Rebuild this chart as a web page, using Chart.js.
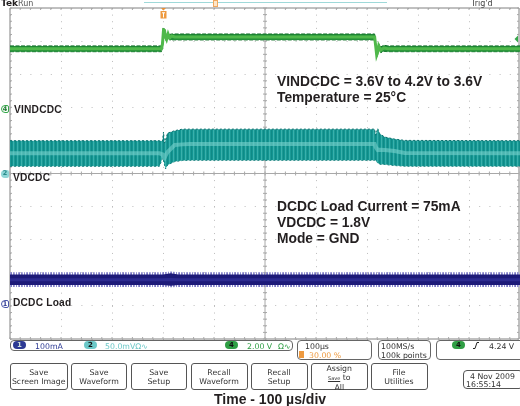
<!DOCTYPE html>
<html>
<head>
<meta charset="utf-8">
<script src="https://cdn.jsdelivr.net/npm/chart.js@4"></script>
<style>
  html, body { margin: 0; padding: 0; background: #fff; }
  #wrap { position: relative; width: 520px; height: 406px; overflow: hidden; }
  canvas { position: absolute; left: 0; top: 0; }
  .t { position: absolute; white-space: nowrap; line-height: 1; color: #231f20; }
  .note { font: bold 13.8px "Liberation Sans", sans-serif; left: 277px; }
  .lab { font: bold 10.2px "Liberation Sans", sans-serif; letter-spacing: .2px; }
  .ui { font: 7.8px "DejaVu Sans", sans-serif; color: #333; }
  .box { position: absolute; box-sizing: border-box; border: 1px solid #666; border-radius: 4px; }
  .key { position: absolute; box-sizing: border-box; top: 363px; height: 27px; border: 1.4px solid #555; border-radius: 3px;
         font: 7.8px/9px "DejaVu Sans", sans-serif; color: #333; text-align: center; padding-top: 4px; }
  .pill { position: absolute; height: 8px; border-radius: 4px; font: bold 7px/8px "DejaVu Sans", sans-serif; text-align: center; color: #111; }
  .tag { position: absolute; left: 1px; width: 8px; height: 8px; box-sizing: border-box; border-radius: 4px 2px 2px 4px;
         font: bold 6.5px/7px "DejaVu Sans", sans-serif; text-align: center; background: #fff; }
</style>
</head>
<body>
<div id="wrap">
  <canvas id="scope" width="520" height="406"></canvas>

  <div class="t" style="left:1px;top:-2px;font:bold 9px 'DejaVu Sans',sans-serif;">Tek</div>
  <div class="t ui" style="left:18px;top:-1px;font-size:8px;color:#555;">Run</div>
  <div class="t ui" style="left:471px;top:-1px;font-size:8px;color:#444;">Trig'd</div>
  <div style="position:absolute;left:144px;top:2px;width:243px;height:1px;background:#9fd9d9;"></div>
  <div style="position:absolute;left:213px;top:0;width:5px;height:7px;box-sizing:border-box;border:1px solid #f0a860;background:#fde6c8;"></div>
  <svg style="position:absolute;left:160px;top:8px;" width="7" height="11">
    <path d="M1 0H6L3.5 2.5Z" fill="#e8913a"/>
    <rect x="0.5" y="3" width="6" height="7.5" fill="#ee9a40"/>
    <path d="M2 4.8H5M3.5 4.8V9.5" stroke="#fff" stroke-width="1" fill="none"/>
  </svg>
  <svg style="position:absolute;left:514px;top:35px;" width="6" height="8"><path d="M0.5 4L4 0.5V7.5Z" fill="#35a84a"/></svg>

  <div class="t note" style="top:73.5px;">VINDCDC = 3.6V to 4.2V to 3.6V</div>
  <div class="t note" style="top:89.5px;">Temperature = 25°C</div>
  <div class="t note" style="top:198.5px;">DCDC Load Current = 75mA</div>
  <div class="t note" style="top:214.5px;">VDCDC = 1.8V</div>
  <div class="t note" style="top:230.5px;">Mode = GND</div>

  <div class="t lab" style="left:14px;top:104px;">VINDCDC</div>
  <div class="t lab" style="left:13px;top:172px;">VDCDC</div>
  <div class="t lab" style="left:13px;top:297px;">DCDC Load</div>
  <div class="tag" style="top:105px;border:1px solid #35a84a;color:#1c7a30;">4</div>
  <div class="tag" style="top:170px;background:#8fd6d6;color:#2a8a8a;">2</div>
  <div class="tag" style="top:300px;border:1px solid #4a55a8;color:#2a3590;">1</div>

  <div class="box" style="left:10px;top:340px;width:283px;height:11px;"></div>
  <div class="pill" style="left:13px;top:341px;width:13px;background:#2d3a94;color:#cdd;">1</div>
  <div class="t ui" style="left:35px;top:342px;color:#2d3a94;">100mA</div>
  <div class="pill" style="left:84px;top:341px;width:13px;background:#6cc8c8;">2</div>
  <div class="t ui" style="left:105px;top:342px;color:#6cc8c8;">50.0mVΩ∿</div>
  <div class="pill" style="left:225px;top:341px;width:13px;background:#2f9e44;">4</div>
  <div class="t ui" style="left:247px;top:342px;color:#2f9e44;">2.00 V</div>
  <div class="t ui" style="left:278px;top:342px;color:#2f9e44;">Ω∿</div>

  <div class="box" style="left:297px;top:340px;width:75px;height:20px;"></div>
  <div class="t ui" style="left:305px;top:342px;">100µs</div>
  <div style="position:absolute;left:299px;top:351px;width:5px;height:7px;background:#ee9a40;"></div>
  <div class="t ui" style="left:309px;top:351px;color:#ee9a40;">30.00 %</div>

  <div class="box" style="left:378px;top:340px;width:53px;height:20px;"></div>
  <div class="t ui" style="left:381px;top:342px;">100MS/s</div>
  <div class="t ui" style="left:381px;top:351px;">100k points</div>

  <div class="box" style="left:436px;top:340px;width:90px;height:20px;"></div>
  <div class="pill" style="left:452px;top:341px;width:13px;background:#2f9e44;">4</div>
  <svg style="position:absolute;left:472px;top:341px;" width="8" height="9"><path d="M1 7.5H3L5 1.5H7" stroke="#222" stroke-width="1" fill="none"/></svg>
  <div class="t ui" style="left:489px;top:342px;">4.24 V</div>

  <div class="key" style="left:10px;width:57.5px;">Save<br>Screen Image</div>
  <div class="key" style="left:71px;width:56px;">Save<br>Waveform</div>
  <div class="key" style="left:130.5px;width:56.5px;">Save<br>Setup</div>
  <div class="key" style="left:190.5px;width:57px;">Recall<br>Waveform</div>
  <div class="key" style="left:250.5px;width:57px;">Recall<br>Setup</div>
  <div class="key" style="left:310.5px;width:57.5px;padding-top:0;">Assign<br><span style="font-size:5px;text-decoration:underline;">Save</span> to<br>All</div>
  <div class="key" style="left:370.5px;width:57px;">File<br>Utilities</div>

  <div class="box" style="left:463px;top:370px;width:60px;height:19px;border-color:#555;"></div>
  <div class="t ui" style="left:470px;top:372px;">4 Nov 2009</div>
  <div class="t ui" style="left:466px;top:380px;">16:55:14</div>

  <div class="t" style="left:214px;top:390.5px;font:bold 14px 'Liberation Sans',sans-serif;">Time - 100 µs/div</div>
</div>

<script>
// ─── Graticule ───
const timeRange = [-300, 700];     // µs, 100 µs/div, trigger at 30 %
const divRange = [-5, 5];
const ch4Range = [-13.9, 6.1];     // V, 2.00 V/div
const ch2Range = [-250, 250];      // mV, 50.0 mV/div
const ch1Range = [-104, 896];      // mA, 100 mA/div

// ─── VINDCDC (CH4) ───
const vinTime = [-300, -3, -1, 1, 3, 5, 7, 10, 13, 17, 23, 415, 417, 419, 421, 423, 427, 433, 441, 700];
const vinCore = [3.64, 3.64, 3.93, 4.77, 4.74, 4.35, 4.20, 4.53, 4.29, 4.41, 4.35, 4.35, 3.81, 3.26, 3.44, 3.81, 3.56, 3.68, 3.64, 3.64];
const vinUpper = [3.81, 3.81, 4.10, 4.89, 4.85, 4.50, 4.32, 4.62, 4.50, 4.53, 4.53, 4.53, 3.95, 3.40, 3.55, 3.95, 3.75, 3.85, 3.81, 3.81];
const vinLower = [3.46, 3.46, 3.75, 4.59, 4.60, 4.20, 4.08, 4.40, 4.17, 4.17, 4.17, 4.17, 3.68, 3.12, 3.30, 3.65, 3.40, 3.48, 3.46, 3.46];

// ─── VDCDC (CH2) ───
const vdcTime = [-300, -7, -1, 1, 3, 5, 9, 23, 38, 52, 415, 417, 421, 425, 435, 454, 474, 700];
const vdcCore = [30.5, 30.5, 29, 25, 23.4, 27, 32.5, 43, 44, 44.6, 44.6, 40, 35.5, 36, 35.5, 34, 31, 30.5];
const vdcUpper = [49.5, 49.5, 49, 62.7, 46, 50.6, 61, 64.7, 67, 67, 67, 58, 68, 60, 55, 52, 50, 49.5];
const vdcLower = [11, 11, 23, 20, 13, 7, 13, 18, 19.6, 20, 20, 20, 16, 14, 13.6, 12, 11, 11];

// ─── DCDC Load (CH1) ───
const loadTime = [-300, 0, 15, 30, 415, 430, 700];
const loadCore = [75, 75, 76, 75, 75, 75, 75];
const loadUpper = [91, 91, 95, 91, 91, 91, 91];
const loadLower = [59, 59, 57, 59, 59, 59, 59];
const loadNoiseUpper = [98, 98, 100, 98, 98, 98, 98];
const loadNoiseLower = [53, 53, 52, 53, 53, 53, 53];

// ─── Helpers ───
function stripes(colors) {
  const c = document.createElement('canvas');
  c.width = colors.length;
  c.height = 1;
  const g = c.getContext('2d');
  colors.forEach((col, i) => {
    if (col) { g.fillStyle = col; g.fillRect(i, 0, 1, 1); }
  });
  return g.createPattern(c, 'repeat');
}

function pts(xs, ys) {
  return xs.map((x, i) => ({ x, y: ys[i] }));
}

function line(xs, ys, axis, color, width, extra) {
  return Object.assign({
    data: pts(xs, ys), yAxisID: axis, borderColor: color, borderWidth: width,
    pointRadius: 0, tension: 0, fill: false,
  }, extra);
}

const datasets = [];

// upper edge fills down to the lower edge, which must be the next dataset
function band(xs, up, lo, axis, fillStyle, edge, dash) {
  const i = datasets.length;
  const w = edge ? 1 : 0;
  datasets.push(line(xs, up, axis, edge, w, { fill: i + 1, backgroundColor: fillStyle, borderDash: dash || [] }));
  datasets.push(line(xs, lo, axis, edge, w, { borderDash: dash || [] }));
}

// first dataset is drawn last, so cores go before their bands
datasets.push(line(vinTime, vinCore, 'y4', '#4fb84a', 3));
band(vinTime, vinUpper, vinLower, 'y4', '#238f38', '#13702a', [4, 1.5]);

datasets.push(line(vdcTime, vdcCore, 'y2', 'rgba(120,210,205,0.6)', 4));
band(vdcTime, vdcUpper, vdcLower, 'y2', stripes(['#129592', '#3ab0ab', '#1a9a96', '#0f8a86']), '#0b6f6c', [2, 2]);

datasets.push(line(loadTime, loadCore, 'y1', '#2d2b90', 3));
band(loadTime, loadUpper, loadLower, 'y1', '#1d1a78', null);
band(loadTime, loadNoiseUpper, loadNoiseLower, 'y1', stripes(['#8a88cc', '', '#9896d4', '#7a78c4', '', '#8a88cc', '#a6a4da', '']), null);

// ─── Solid frame, centre cross and minor ticks ───
const graticule = {
  id: 'graticule',
  beforeDatasetsDraw(chart) {
    const { ctx, scales: { x, y } } = chart;
    const left = x.left, right = x.right - 1, top = y.top, bottom = y.bottom;
    const cx = x.getPixelForValue(200), cy = y.getPixelForValue(0);
    ctx.save();
    ctx.strokeStyle = '#808080';
    ctx.lineWidth = 1;
    ctx.beginPath();
    ctx.moveTo(left, top); ctx.lineTo(right, top);
    ctx.moveTo(left, bottom); ctx.lineTo(right, bottom);
    ctx.moveTo(left, top); ctx.lineTo(left, bottom);
    ctx.moveTo(right, top); ctx.lineTo(right, bottom);
    ctx.stroke();
    ctx.strokeStyle = '#a8a8a8';
    ctx.beginPath();
    ctx.moveTo(left, cy); ctx.lineTo(right, cy);
    ctx.moveTo(cx, top); ctx.lineTo(cx, bottom);
    for (let t = timeRange[0]; t <= timeRange[1]; t += 20) {
      const px = x.getPixelForValue(t);
      ctx.moveTo(px, cy - 2); ctx.lineTo(px, cy + 2);
      ctx.moveTo(px, top); ctx.lineTo(px, top + 2);
      ctx.moveTo(px, bottom); ctx.lineTo(px, bottom - 2);
    }
    for (let d = divRange[0] * 5; d <= divRange[1] * 5; d++) {
      const py = y.getPixelForValue(d / 5);
      ctx.moveTo(cx - 2, py); ctx.lineTo(cx + 2, py);
      ctx.moveTo(left, py); ctx.lineTo(left + 2, py);
      ctx.moveTo(right, py); ctx.lineTo(right - 2, py);
    }
    ctx.stroke();
    ctx.restore();
  },
};

function hiddenAxis(range) {
  return { type: 'linear', display: false, min: range[0], max: range[1] };
}

new Chart(document.getElementById('scope'), {
  type: 'line',
  data: { datasets },
  plugins: [graticule],
  options: {
    responsive: false,
    animation: false,
    events: [],
    layout: { padding: { left: 10, right: 0, top: 8, bottom: 67 } },
    plugins: { legend: { display: false }, tooltip: { enabled: false } },
    scales: {
      x: {
        type: 'linear', min: timeRange[0], max: timeRange[1],
        afterFit: s => { s.height = 0; },
        ticks: { display: false, stepSize: 100 },
        grid: { color: '#bcbcbc', drawTicks: false },
        border: { display: false, dash: [1, 5.62] },
      },
      y: {
        type: 'linear', min: divRange[0], max: divRange[1],
        afterFit: s => { s.width = 0; },
        ticks: { display: false, stepSize: 1 },
        grid: { color: '#bcbcbc', drawTicks: false },
        border: { display: false, dash: [1, 9.2] },
      },
      y4: hiddenAxis(ch4Range),
      y2: hiddenAxis(ch2Range),
      y1: hiddenAxis(ch1Range),
    },
  },
});
</script>
</body>
</html>
